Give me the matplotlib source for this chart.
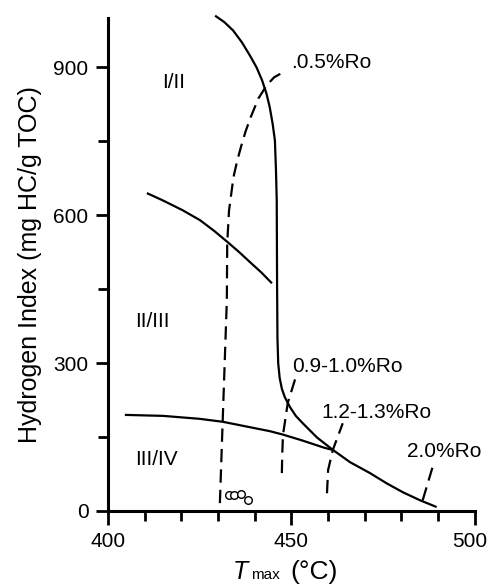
import matplotlib
matplotlib.use("Agg")
import matplotlib.pyplot as plt
from matplotlib.ticker import MultipleLocator

plt.rcParams['font.family'] = ['Liberation Sans', 'DejaVu Sans']

# kerogen type boundaries (solid lines)
b1_x = [429.2, 431.7, 434.1, 436.5, 438.7, 440.5, 442.0, 443.2, 444.1, 444.9, 445.5, 445.8, 446.0, 446.1,
        446.2, 446.4, 446.8, 447.4, 448.2, 449.6, 451.2, 453.1, 457.0, 461.3, 466.0, 471.4, 476.0, 480.4, 485.0, 489.6]
b1_y = [1005, 992, 975, 951, 924, 900, 874, 847, 819, 785, 752, 690, 630, 454,
        350, 300, 270, 248, 231, 211, 193, 178, 149, 124, 99, 77, 56, 38, 22, 8]
b2_x = [410.6, 415.0, 420.4, 425.1, 429.0, 432.7, 435.8, 438.7, 441.8, 444.7]
b2_y = [645, 630, 610, 590, 568, 545, 525, 505, 484, 462]
b3_x = [404.6, 415.0, 425.0, 431.3, 438.7, 444.1, 447.7, 453.0, 459.1, 461.3]
b3_y = [195, 193, 187, 181, 170, 162, 155, 143, 128, 124]

# vitrinite reflectance lines (dashed)
ro05_x = [430.5, 431.3, 432.4, 432.5, 433.0, 434.2, 435.2, 436.3, 437.5, 438.9, 441.0, 443.3, 445.3, 447.7]
ro05_y = [16, 190, 428, 543, 610, 677, 710, 740, 770, 799, 837, 864, 880, 890]
ro09_x = [447.4, 447.5, 447.7, 449.0, 451.2]
ro09_y = [77, 115, 154, 219, 272]
ro12_x = [459.7, 460.0, 461.3, 464.0]
ro12_y = [36, 83, 124, 178]
ro20_x = [485.8, 488.8]
ro20_y = [22, 97]

# samples
samp_x = [433.0, 434.3, 436.2, 438.3]
samp_y = [32, 33, 34, 23]

x_ticks = [400, 450, 500]
x_labels = ['400', '450', '500']

fig = plt.figure(figsize=(4.9, 5.85), dpi=100)
ax = fig.add_axes([0.2204, 0.1265, 0.7486, 0.8425])

solid = dict(color='black', lw=1.6, solid_capstyle='butt', solid_joinstyle='round', clip_on=False)
dash = dict(color='black', lw=1.6, linestyle=(0, (6, 3.2)), clip_on=False)

ax.plot(b1_x, b1_y, **solid)
ax.plot(b2_x, b2_y, **solid)
ax.plot(b3_x, b3_y, **solid)
ax.plot(ro05_x, ro05_y, **dash)
ax.plot(ro09_x, ro09_y, **dash)
ax.plot(ro12_x, ro12_y, **dash)
ax.plot(ro20_x, ro20_y, **dash)
ax.scatter(samp_x, samp_y, s=30, facecolors='white', edgecolors='black', linewidths=1.0, zorder=3)

ax.text(449.9, 898, '.0.5%Ro', fontsize=15, va='baseline', ha='left')
ax.text(450.1, 282, '0.9-1.0%Ro', fontsize=15, va='baseline', ha='left')
ax.text(458.3, 188, '1.2-1.3%Ro', fontsize=15, va='baseline', ha='left')
ax.text(481.5, 109, '2.0%Ro', fontsize=15, va='baseline', ha='left')

ax.text(418, 870, 'I/II', fontsize=15, ha='center', va='center')
ax.text(412, 385, 'II/III', fontsize=15, ha='center', va='center')
ax.text(413.3, 105, 'III/IV', fontsize=15, ha='center', va='center')

ax.set_xlim(400, 500)
ax.set_ylim(0, 1000)
ax.set_xticks(x_ticks)
# last label is drawn by hand a bit to the left so it stays inside the figure
ax.set_xticklabels(x_labels[:-1] + [''])
ax.xaxis.set_minor_locator(MultipleLocator(10))
ax.yaxis.set_major_locator(MultipleLocator(300))
ax.yaxis.set_minor_locator(MultipleLocator(150))
ax.tick_params(which='major', direction='out', length=10, width=2, labelsize=15, pad=5)
ax.tick_params(which='minor', direction='out', length=7, width=2)
ax.tick_params(axis='y', which='major', length=9)
for side in ['top', 'right']:
    ax.spines[side].set_visible(False)
for side in ['left', 'bottom']:
    ax.spines[side].set_linewidth(2.2)

ax.annotate(x_labels[-1], xy=(x_ticks[-1], 0), xycoords=('data', 'axes fraction'),
            xytext=(-4, -15), textcoords='offset points', ha='center', va='top',
            fontsize=15, annotation_clip=False)

ax.set_ylabel('Hydrogen Index (mg HC/g TOC)', fontsize=18, labelpad=8)

# x label: italic T, small "max", then units
fig.text(0.4755, 0.0103, 'T', fontsize=18, style='italic', va='baseline', ha='left')
fig.text(0.512, 0.0103, 'max', fontsize=11, va='baseline', ha='left')
fig.text(0.592, 0.0103, '(°C)', fontsize=19, va='baseline', ha='left')

fig.savefig('out.png', dpi=100)
